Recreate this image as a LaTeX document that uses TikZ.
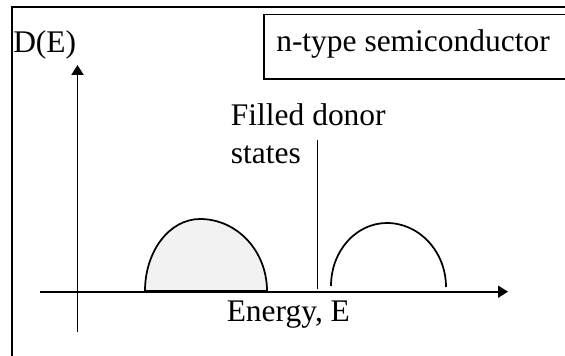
\documentclass[tikz,border=0pt]{standalone}
\usepackage{fontspec}
\setmainfont{Liberation Serif}
\usetikzlibrary{arrows.meta}
\begin{document}
\begin{tikzpicture}[x=0.75pt,y=-0.75pt,
  lbl/.style={anchor=base west,inner sep=0pt,font=\fontsize{23.6}{28}\selectfont},
  frameline/.style={line width=1.5pt},
  axisline/.style={line width=1.4pt,-{Triangle[length=7.5pt,width=9pt]}},
  humpline/.style={line width=1.3pt},
  boxline/.style={line width=1.1pt},
  markline/.style={line width=0.9pt}]
\useasboundingbox (0,0) rectangle (565,356);
\clip (0,0) rectangle (565,356);
% outer frame
\draw[frameline] (12,370) -- (12,7.5) -- (580,7.5);
% label box
\draw[boxline] (264,14.5) rectangle (580,79);
\node[lbl] (title) at (276,51.7) {n-type semiconductor};
% axes
\coordinate (xs) at (40,291.7);
\coordinate (xe) at (508,291.7);
\coordinate (ys) at (77.5,332);
\coordinate (ye) at (77.5,65);
\draw[axisline] (xs) -- (xe);
\draw[axisline] (ys) -- (ye);
\node[lbl] (dlab) at (13,52.7) {D(E)};
\node[lbl] (elab) at (226.5,321.7) {Energy, E};
% filled valence band
\coordinate (va) at (145,291);
\coordinate (vp) at (200,219);
\coordinate (vb) at (267,291);
\draw[humpline,fill=black!5] (va) .. controls (145,251) and (169.6,219) .. (vp)
  .. controls (237,219) and (267,251) .. (vb) -- cycle;
% empty conduction band
\coordinate (ca) at (331,286);
\coordinate (cp) at (387,223);
\coordinate (cb) at (446,287);
\draw[humpline] (ca) .. controls (331,251) and (356,223) .. (cp)
  .. controls (419.6,223) and (446,252) .. (cb);
% donor level
\coordinate (dt) at (317.3,140);
\coordinate (db) at (317.3,289);
\draw[markline] (dt) -- (db);
\node[lbl] (don1) at (230.7,126) {Filled donor};
\node[lbl] (don2) at (230.7,163.3) {states};
\end{tikzpicture}
\end{document}
